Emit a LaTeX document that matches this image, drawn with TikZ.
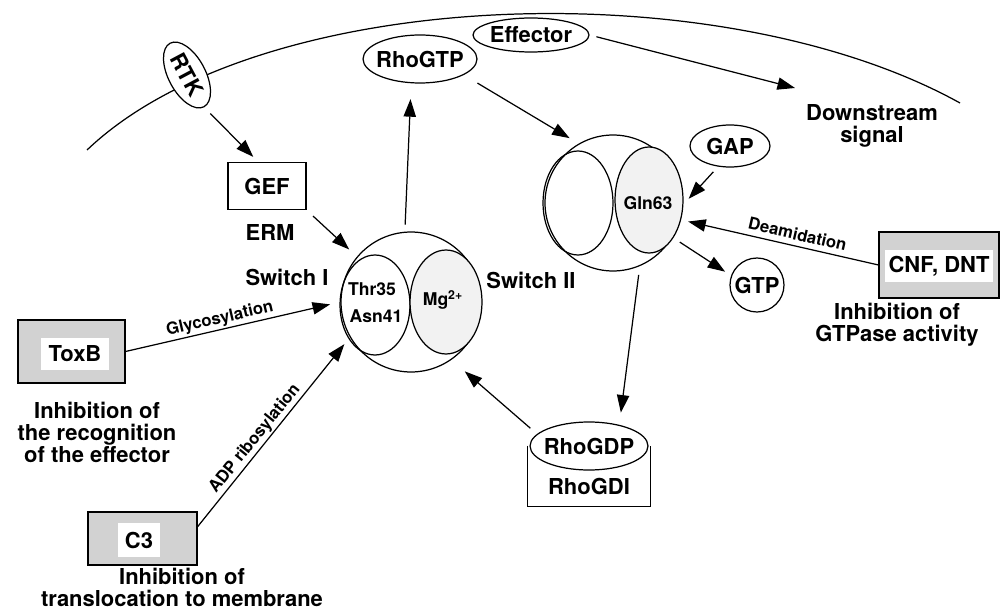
\documentclass[tikz,border=0pt]{standalone}
\usepackage{fontspec}
\setmainfont{TeX Gyre Heros}
\usetikzlibrary{arrows.meta,shapes.geometric}
\newcommand{\inoval}[1]{\makebox[0pt]{#1}}
\tikzset{
  arr/.style={-{Triangle[length=10pt,width=7pt]}, line width=0.7pt},
  rarr/.style={{Triangle[length=10pt,width=7pt]}-, line width=0.7pt},
  oval/.style={ellipse, draw, line width=0.7pt, fill=white, inner sep=0pt},
  lobe/.style={ellipse, draw, line width=0.7pt, inner sep=0pt},
  lbl/.style={font=\fontsize{12.5}{12.5}\selectfont\bfseries, align=center, inner sep=0pt},
  site/.style={font=\fontsize{10}{11}\selectfont\bfseries, inner sep=0pt},
  tag/.style={font=\fontsize{9.5}{10}\selectfont\bfseries, inner sep=1pt},
  toxbox/.style={rectangle, draw, line width=0.6pt, fill=gray!35},
  hole/.style={rectangle, fill=white, inner sep=0pt, font=\fontsize{12.5}{12.5}\selectfont\bfseries}
}
\begin{document}
\begin{tikzpicture}[x=0.02cm, y=-0.02cm]
  \useasboundingbox (0,0) rectangle (1000,611);
  % membrane
  \coordinate (memL) at (87,150);
  \coordinate (memR) at (960,103);
  \draw[line width=0.7pt] (memL) .. controls (260,-15) and (720,-30) .. (memR);

  \node[oval, rotate=-62, minimum width=1.44cm, minimum height=0.74cm, lbl] (rtk) at (187,75) {RTK};
  \node[oval, minimum width=2.28cm, minimum height=0.96cm, lbl] (rhogtp) at (420,59) {\inoval{RhoGTP}};
  \node[oval, minimum width=2.32cm, minimum height=0.68cm, lbl] (effector) at (531,35) {\inoval{Effector}};
  \node[lbl] (downstream) at (872,126) {Downstream\\signal};
  \coordinate (dsTip) at (795,88);
  \node[oval, minimum width=1.6cm, minimum height=0.84cm, lbl] (gap) at (730,146) {GAP};
  \node[rectangle, draw, line width=0.7pt, minimum width=1.56cm, minimum height=0.94cm, lbl] (gef) at (267,186) {GEF};
  \node[lbl] (erm) at (270,232) {ERM};

  % Rho with GDP
  \node[circle, draw, line width=0.7pt, minimum size=2.8cm, inner sep=0pt] (rhoI) at (411,302) {};
  \node[lobe, minimum width=1.4cm, minimum height=2cm] (swI) at (375,305) {};
  \node[lobe, fill=gray!10, minimum width=1.44cm, minimum height=2.08cm] (mg) at (446,302) {};
  \node[site] (thr) at (372,289) {Thr35};
  \node[site] (asn) at (376,316) {Asn41};
  \node[site] (mgtxt) at (443,300) {Mg\textsuperscript{2+}};
  \node[lbl] (swItxt) at (287,277) {Switch I};
  \node[lbl] (swIItxt) at (531,280) {Switch II};

  % Rho with GTP
  \node[circle, draw, line width=0.7pt, minimum size=2.72cm, inner sep=0pt] (rhoII) at (613,203) {};
  \node[lobe, minimum width=1.4cm, minimum height=2.08cm] (leftII) at (578,203) {};
  \node[lobe, fill=gray!10, minimum width=1.36cm, minimum height=2.12cm] (gln) at (649,200) {};
  \node[site] (glntxt) at (648,203) {Gln63};
  \node[circle, draw, line width=0.7pt, minimum size=1.08cm, lbl] (gtp) at (757,285) {GTP};

  % RhoGDP / RhoGDI
  \node[minimum width=2.44cm, minimum height=1.2cm] (gdi) at (589,476) {};
  \draw[line width=0.7pt] (gdi.north west) -- (gdi.south west) -- (gdi.south east) -- (gdi.north east);
  \node[oval, minimum width=2.36cm, minimum height=0.96cm, lbl] (rhogdp) at (589,446) {\inoval{RhoGDP}};
  \node[lbl] (gditxt) at (589,486) {RhoGDI};

  % toxins
  \node[toxbox, minimum width=2.14cm, minimum height=1.26cm] (toxb) at (71.5,351.5) {};
  \node[hole, minimum width=1.36cm, minimum height=0.64cm] (toxbtxt) at (75,354) {ToxB};
  \node[lbl] (toxbinh) at (97,432) {Inhibition of\\the recognition\\of the effector};
  \node[toxbox, minimum width=2.4cm, minimum height=1.32cm] (cnf) at (939,265) {};
  \node[hole, minimum width=2.16cm, minimum height=0.66cm] (cnftxt) at (939,266) {CNF, DNT};
  \node[lbl] (cnfinh) at (897,325) {Inhibition of\\GTPase activity};
  \node[toxbox, minimum width=2.18cm, minimum height=1.06cm] (c3) at (142.5,538.5) {};
  \node[hole, minimum width=0.84cm, minimum height=0.68cm] (c3txt) at (139,540) {C3};
  \node[lbl] (c3inh) at (182,587) {Inhibition of\\translocation to membrane};

  % arrows
  \draw[arr, shorten <=5pt, shorten >=4pt] (rtk.east) -- (gef.110);
  \draw[arr, shorten <=5pt, shorten >=6pt] (gef.south east) -- (rhoI.140);
  \draw[arr, shorten <=4pt, shorten >=9pt] (rhoI.95) -- (rhogtp.250);
  \draw[arr, shorten <=9pt, shorten >=6pt] (rhogtp.-20) -- (rhoII.120);
  \draw[arr, shorten <=4pt] (effector.east) -- (dsTip);
  \draw[arr, shorten <=4pt, shorten >=6pt] (gap.240) -- (rhoII.-3);
  \draw[rarr, shorten <=5pt] (rhoII.-14) -- node[tag, sloped, above=2pt, pos=0.58] (deam) {Deamidation} (cnf.west);
  \draw[arr, shorten <=5pt, shorten >=4pt] (rhoII.-30) -- (gtp.160);
  \draw[arr, shorten <=5pt, shorten >=7pt] (rhoII.-67) -- (rhogdp.35);
  \draw[arr, shorten <=5pt, shorten >=10pt] (rhogdp.167) -- (rhoI.-55);
  \draw[arr, shorten >=6pt] (toxb.east) -- node[tag, sloped, above, pos=0.45] (glyco) {Glycosylation} (rhoI.180);
  \draw[arr, shorten >=5pt] (c3.12) -- node[tag, sloped, above, pos=0.43] (adp) {ADP ribosylation} (rhoI.210);
\end{tikzpicture}
\end{document}
